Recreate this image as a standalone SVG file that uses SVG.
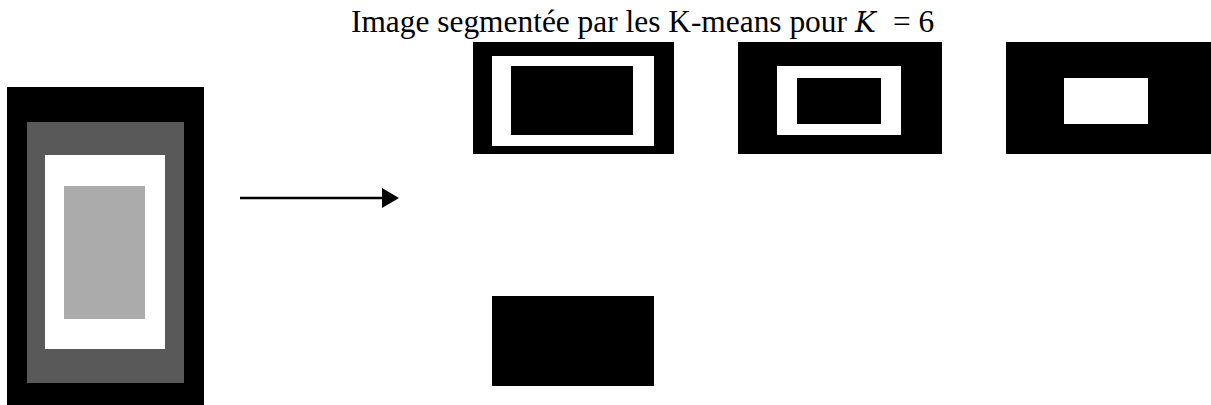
<svg xmlns="http://www.w3.org/2000/svg" width="1211" height="405" viewBox="0 0 1211 405">
<style>
.t{font-family:"Liberation Serif","DejaVu Serif",serif;font-size:31.4px;fill:#000}
.k{font-family:"DejaVu Serif","Liberation Serif",serif;font-style:italic;font-size:28px}
.b{fill:#000}
.w{fill:#fff}
</style>
<rect width="1211" height="405" fill="#fff"/>
<text class="t" x="351" y="32">Image segmentée par les K-means pour <tspan class="k" x="855">K</tspan><tspan x="893">= 6</tspan></text>
<g id="source">
<rect class="b" x="7" y="87" width="197" height="318"/>
<rect x="27" y="122" width="157" height="261" fill="#595959"/>
<rect class="w" x="45" y="155" width="120" height="194"/>
<rect x="64" y="186" width="81" height="133" fill="#ababab"/>
</g>
<g id="cluster1">
<rect class="b" x="473" y="42" width="201" height="112"/>
<rect class="w" x="492" y="56" width="162" height="90"/>
<rect class="b" x="511" y="66" width="122" height="69"/>
</g>
<g id="cluster2">
<rect class="b" x="738" y="42" width="204" height="112"/>
<rect class="w" x="777" y="66" width="124" height="69"/>
<rect class="b" x="797" y="78" width="84" height="46"/>
</g>
<g id="cluster3">
<rect class="b" x="1006" y="42" width="205" height="112"/>
<rect class="w" x="1064" y="78" width="84" height="46"/>
</g>
<g id="cluster4">
<rect class="b" x="492" y="296" width="162" height="90"/>
</g>
<g id="connectors">
<line x1="240" y1="198" x2="384" y2="198" stroke="#000" stroke-width="2.6"/>
<polygon points="382,188 399,198 382,208" fill="#000"/>
</g>
</svg>
